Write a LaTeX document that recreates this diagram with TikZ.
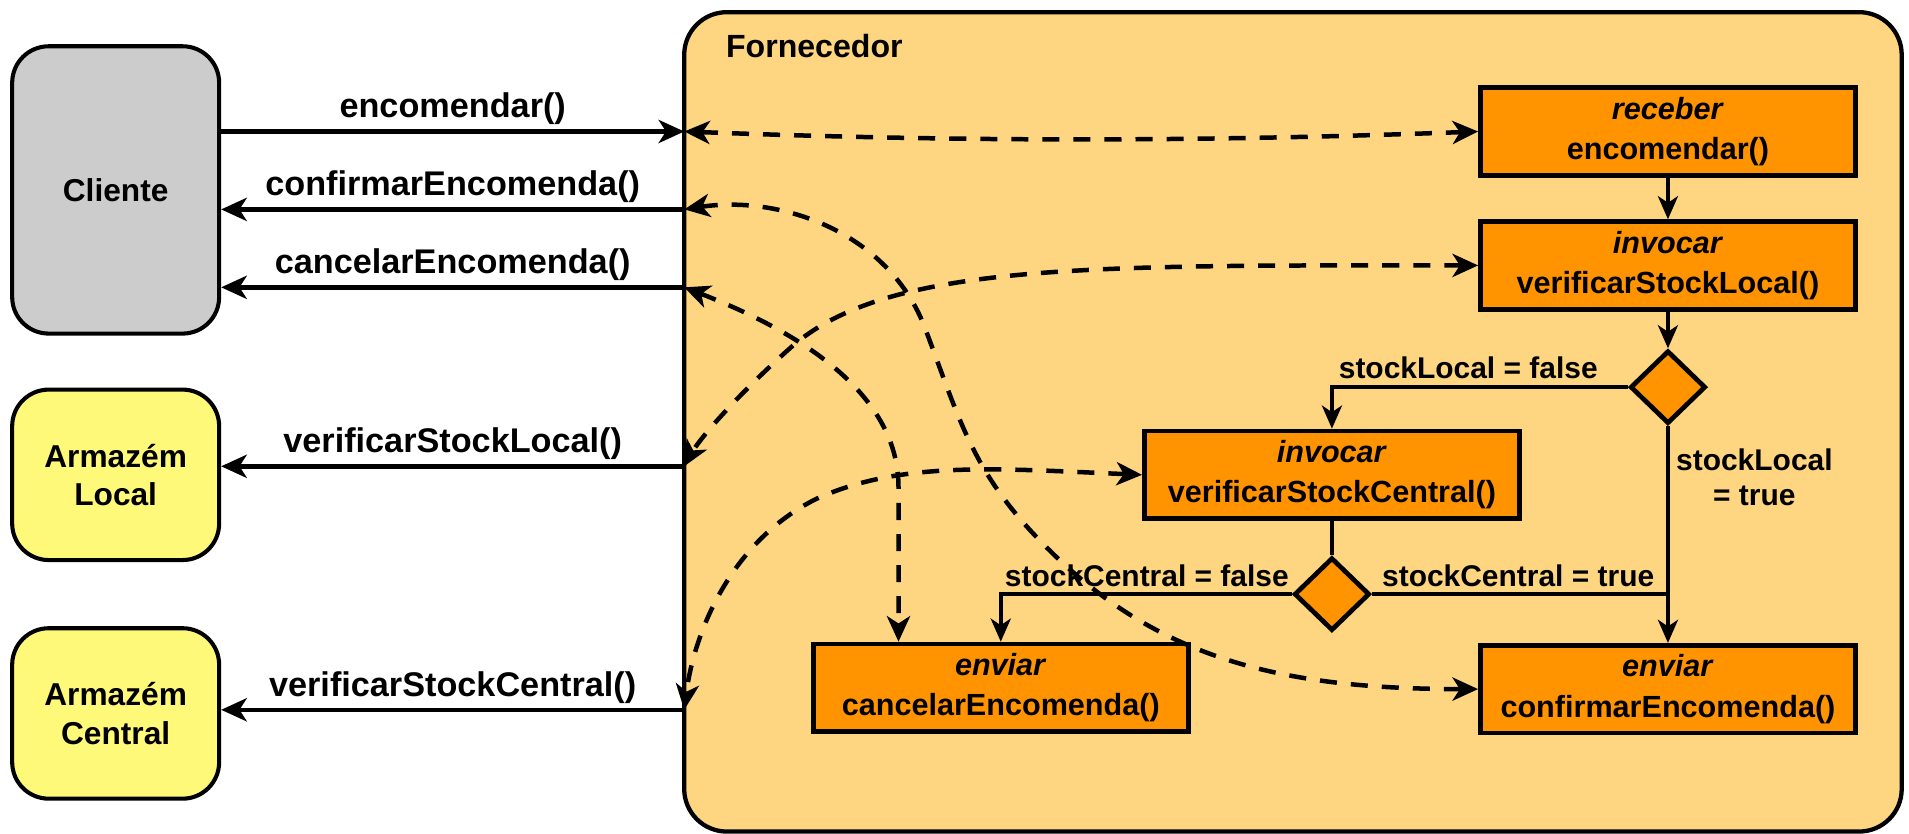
\documentclass[tikz,border=0pt]{standalone}
\usepackage{fontspec}
\setmainfont{Liberation Sans}
\usetikzlibrary{arrows.meta,shapes.geometric}

\definecolor{supplierfill}{RGB}{254,214,129}
\definecolor{taskfill}{RGB}{255,148,0}
\definecolor{clientfill}{RGB}{204,204,204}
\definecolor{storefill}{RGB}{255,249,122}

\tikzset{
  tip/.tip={Stealth[length=4.2mm,width=3.8mm,inset=1.2mm]},
  smalltip/.tip={Stealth[length=3.8mm,width=3.3mm,inset=1.1mm]},
  actor/.style={draw, line width=1.9pt, rounded corners=6mm, minimum width=34mm,
    inner sep=0pt, align=center, font=\fontsize{14.8}{18}\selectfont\bfseries},
  task/.style={draw, fill=taskfill, line width=2.2pt, minimum width=61.6mm,
    minimum height=14.4mm, inner sep=0pt, align=center,
    font=\fontsize{14.3}{18.8}\selectfont\bfseries},
  choice/.style={draw, fill=taskfill, diamond, line width=2.2pt,
    minimum width=12.4mm, minimum height=12mm, inner sep=0pt},
  msg/.style={line width=2.1pt, -tip},
  link/.style={line width=2.1pt, dash pattern=on 2.8mm off 2.3mm, tip-tip},
  flow/.style={line width=1.7pt, -smalltip},
  plain/.style={line width=1.7pt},
  msglabel/.style={font=\fontsize{16}{19}\selectfont\bfseries, inner sep=0.7mm},
  guard/.style={font=\fontsize{14}{16}\selectfont\bfseries, inner sep=0pt, align=center},
}

\begin{document}
\begin{tikzpicture}[x=0.2mm, y=-0.2mm]
\useasboundingbox (0,0) rectangle (1568,685);

% supplier container
\node[draw, fill=supplierfill, line width=2pt, rounded corners=7mm,
      minimum width=200mm, minimum height=134.6mm, inner sep=0pt] (forn) at (1062,346.5) {};
\node[anchor=west, inner sep=0pt, font=\fontsize{15}{18}\selectfont\bfseries] (fornlabel) at (596,38) {Fornecedor};

% external parties
\node[actor, fill=clientfill, minimum height=47.2mm] (cliente) at (95,156) {Cliente};
\node[actor, fill=storefill, minimum height=28mm] (whlocal) at (95,390) {Armazém\\Local};
\node[actor, fill=storefill, minimum height=28mm] (whcentral) at (95,586) {Armazém\\Central};

% process steps
\node[task] (recv) at (1370,108) {\textit{receber}\\encomendar()};
\node[task] (chklocal) at (1370,218) {\textit{invocar}\\verificarStockLocal()};
\node[choice] (d1) at (1370,318) {};
\node[task] (chkcentral) at (1094,390) {\textit{invocar}\\verificarStockCentral()};
\node[choice] (d2) at (1094,488) {};
\node[task] (sendcancel) at (822,565) {\textit{enviar}\\cancelarEncomenda()};
\node[task] (sendconfirm) at (1370,566) {\textit{enviar}\\confirmarEncomenda()};

% ports on the supplier boundary
\coordinate (pEnc) at (562,108);
\coordinate (pConf) at (562,172);
\coordinate (pCanc) at (562,236);
\coordinate (pLocal) at (562,383);
\coordinate (pCentral) at (562,583);
\coordinate (xc) at (738,0);

% messages between parties
\draw[msg] (cliente.east |- pEnc) -- node[msglabel, above] {encomendar()} (pEnc);
\draw[msg] (pConf) -- node[msglabel, above] {confirmarEncomenda()} (cliente.east |- pConf);
\draw[msg] (pCanc) -- node[msglabel, above] {cancelarEncomenda()} (cliente.east |- pCanc);
\draw[msg] (pLocal) -- node[msglabel, above] {verificarStockLocal()} (whlocal.east |- pLocal);
\draw[msg] (pCentral) -- node[msglabel, above] {verificarStockCentral()} (whcentral.east |- pCentral);

% control flow
\draw[flow] (recv) -- (chklocal);
\draw[flow] (chklocal) -- (d1);
\draw[flow] (d1.west) -| (chkcentral.north);
\draw[flow] (d1.south) -- (sendconfirm.north);
\draw[plain] (chkcentral) -- (d2);
\draw[flow] (d2.west) -| (sendcancel.north);
\coordinate (joint) at (d1.south |- d2.east);
\draw[plain] (d2.east) -- (joint);

\node[guard] (g1) at (1206,302) {stockLocal = false};
\node[guard] (g2) at (1441,392) {stockLocal\\= true};
\node[guard] (g3) at (942,473) {stockCentral = false};
\node[guard] (g4) at (1247,473) {stockCentral = true};

% bindings between ports and steps
\draw[link] (pEnc) .. controls (800,117) and (1000,116) .. (recv.west);
\draw[link] (pConf) .. controls (640,160) and (730,190) .. (760,270)
  .. controls (790,350) and (800,390) .. (860,450)
  .. controls (950,540) and (1050,566) .. (sendconfirm.west);
\draw[link] (pCanc) .. controls (650,270) and (738,320) .. (738,400) -- (sendcancel.north -| xc);
\draw[link] (chklocal.west) .. controls (900,218) and (730,215) .. (650,285)
  .. controls (605,325) and (575,360) .. (pLocal);
\draw[link] (chkcentral.west) .. controls (820,385) and (740,378) .. (670,410)
  .. controls (600,445) and (570,520) .. (pCentral);
\end{tikzpicture}
\end{document}
